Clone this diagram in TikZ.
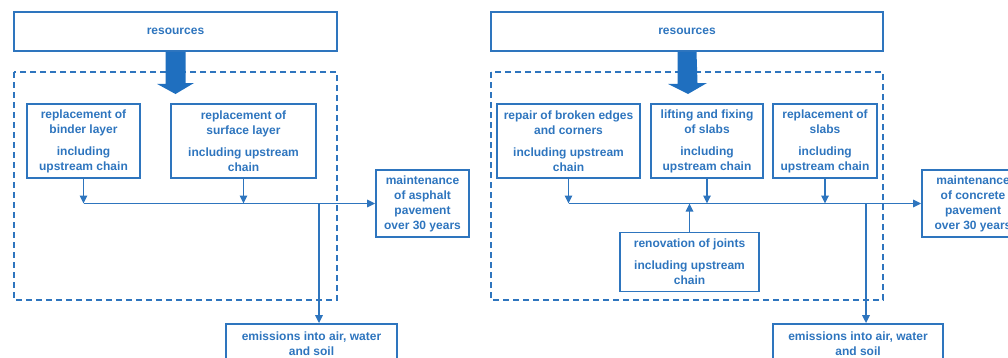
\documentclass[tikz,border=0pt]{standalone}
\usepackage{fontspec}
\setmainfont{Liberation Sans}
\usetikzlibrary{arrows.meta}
\definecolor{ublue}{RGB}{46,117,190}
\definecolor{afill}{RGB}{31,111,191}
\tikzset{
  box/.style={draw=ublue, line width=1.8pt, text=ublue, align=center, inner sep=0pt,
    font=\fontsize{12}{15}\selectfont\bfseries},
  frame/.style={draw=ublue, line width=1.5pt, dash pattern=on 6pt off 4pt},
  conn/.style={draw=ublue, line width=1.6pt},
  arr/.style={conn, -{Triangle[length=8pt,width=7.5pt]}},
  bigarrow/.style={fill=afill, draw=none}
}
\newcommand{\gap}{\\[7pt]}
\begin{document}
\begin{tikzpicture}[x=1pt,y=-1pt]
\useasboundingbox (0,0) rectangle (1008,357);
\clip (0,0) rectangle (1008,357);
% ---------- left ----------
\node[box, minimum width=323pt, minimum height=39pt] (resA) at (175.5,31.5) {resources};
\draw[frame] (14,72) rectangle (337,300);
\node[box, minimum width=113pt, minimum height=74pt] (binder) at (83.5,141) {replacement of\\binder layer\gap including\\upstream chain};
\node[box, minimum width=145pt, minimum height=74pt] (surf) at (243.5,141) {replacement of\\surface layer\gap including upstream\\chain};
\node[box, minimum width=93pt, minimum height=67pt] (maintA) at (422.5,203.5) {maintenance\\of asphalt\\pavement\\over 30 years};
\node[box, minimum width=171pt, minimum height=39pt] (emisA) at (311.5,343.5) {emissions into air, water\\and soil};
\fill[bigarrow] ([xshift=-10pt]resA.south) -- ++(0,32) -- ++(-8.5,0) -- (175.5,94) -- (194,83) -- ++(-8.5,0) -- ([xshift=10pt]resA.south) -- cycle;
\coordinate (jA1) at (binder.south |- maintA.west);
\coordinate (jA2) at (surf.south |- maintA.west);
\coordinate (jAe) at (319,203);
\draw[arr] (binder.south) -- (jA1);
\draw[arr] (surf.south) -- (jA2);
\draw[arr] (jA1) -- (maintA.west);
\draw[arr] (jAe) -- (jAe |- emisA.north);
% ---------- right ----------
\node[box, minimum width=392pt, minimum height=39pt] (resB) at (687,31.5) {resources};
\draw[frame] (491,72) rectangle (883,300);
\node[box, minimum width=143pt, minimum height=74pt] (repair) at (568.5,141) {repair of broken edges\\and corners\gap including upstream\\chain};
\node[box, minimum width=112pt, minimum height=74pt] (lift) at (707,141) {lifting and fixing\\of slabs\gap including\\upstream chain};
\node[box, minimum width=104pt, minimum height=74pt] (repl) at (825,141) {replacement of\\slabs\gap including\\upstream chain};
\node[box, minimum width=139pt, minimum height=59pt] (renov) at (689.5,262) {renovation of joints\gap including upstream\\chain};
\node[box, minimum width=102pt, minimum height=67pt] (maintB) at (973,203.5) {maintenance\\of concrete\\pavement\\over 30 years};
\node[box, minimum width=170pt, minimum height=39pt] (emisB) at (858,343.5) {emissions into air, water\\and soil};
\fill[bigarrow] ([xshift=-9.5pt]resB.south) -- ++(0,32) -- ++(-9.5,0) -- (688,94) -- (707,83) -- ++(-9.5,0) -- ([xshift=9.5pt]resB.south) -- cycle;
\coordinate (jB1) at (repair.south |- maintB.west);
\coordinate (jB2) at (lift.south |- maintB.west);
\coordinate (jB3) at (repl.south |- maintB.west);
\coordinate (jB4) at (renov.north |- maintB.west);
\coordinate (jBe) at (866,203);
\draw[arr] (repair.south) -- (jB1);
\draw[arr] (lift.south) -- (jB2);
\draw[arr] (repl.south) -- (jB3);
\draw[arr] (renov.north) -- (jB4);
\draw[arr] (jB1) -- (maintB.west);
\draw[arr] (jBe) -- (jBe |- emisB.north);
\end{tikzpicture}
\end{document}
